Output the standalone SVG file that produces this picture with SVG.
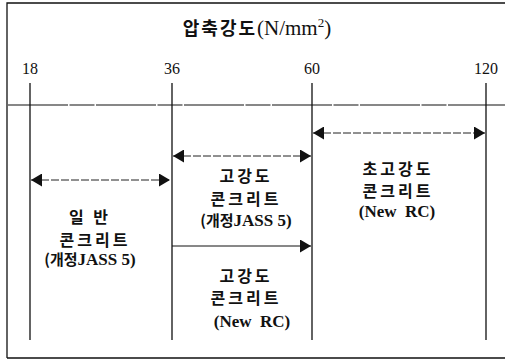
<svg xmlns="http://www.w3.org/2000/svg" width="505" height="360" viewBox="0 0 505 360">
<defs>
<style>
.ln{stroke:#111;stroke-width:1.3;fill:none}
.dash{stroke:#222;stroke-width:1;stroke-dasharray:8 2;fill:none}
.ah{fill:#111}
.ko{font-family:"Noto Sans CJK KR","Liberation Serif",sans-serif;font-size:16px;font-weight:bold;fill:#111;text-anchor:middle;letter-spacing:3px}
.sub{font-family:"Liberation Serif","Noto Sans CJK KR",serif;font-size:17px;font-weight:bold;fill:#111;text-anchor:middle}
.num{font-family:"Liberation Serif",serif;font-size:16px;fill:#111;text-anchor:middle}
.title{font-family:"Liberation Serif","Noto Sans CJK KR",serif;font-size:21px;fill:#111;text-anchor:middle}
</style>
<marker id="arr" viewBox="0 0 11 13" refX="11" refY="6.5" markerWidth="11" markerHeight="13" markerUnits="userSpaceOnUse" orient="auto-start-reverse">
<path d="M0,0 L11,6.5 L0,13 Z" class="ah"/>
</marker>
</defs>
<rect width="505" height="360" fill="#fff"/>
<g id="frame">
<path class="ln" d="M7,358 V3 H505 M7,358 H505"/>
</g>
<g id="axis">
<text class="title" x="257" y="35"><tspan font-family="Noto Sans CJK KR" font-weight="bold" font-size="18" letter-spacing="2">압축강도</tspan><tspan>(N/mm</tspan><tspan font-size="13" dy="-8">2</tspan><tspan dy="8">)</tspan></text>
<text class="num" x="30" y="74">18</text>
<text class="num" x="172" y="74">36</text>
<text class="num" x="312" y="74">60</text>
<text class="num" x="486" y="74">120</text>
<path class="ln" d="M8,105 H505" style="stroke-width:1.1;stroke-dasharray:60 1.5 25 1.5"/>
<path class="ln" d="M30,83 V340 M172,83 V340 M312,83 V340 M486,83 V340"/>
</g>
<g id="connectors">
<path class="dash" d="M31,180 H170" marker-start="url(#arr)" marker-end="url(#arr)"/>
<path class="dash" d="M173,156 H311" marker-start="url(#arr)" marker-end="url(#arr)"/>
<path class="dash" d="M313,133 H485" marker-start="url(#arr)" marker-end="url(#arr)"/>
<path class="ln" d="M172,246 H311" marker-end="url(#arr)" style="stroke-width:1"/>
</g>
<g id="normal">
<text class="ko" x="90" y="223">일 반</text>
<text class="ko" x="95" y="246">콘크리트</text>
<text class="sub" x="90" y="265"><tspan font-family="Noto Sans CJK KR" font-size="15">(개정</tspan>JASS 5)</text>
</g>
<g id="high-jass">
<text class="ko" x="246" y="182">고강도</text>
<text class="ko" x="246" y="205">콘크리트</text>
<text class="sub" x="246" y="226"><tspan font-family="Noto Sans CJK KR" font-size="15">(개정</tspan>JASS 5)</text>
</g>
<g id="high-newrc">
<text class="ko" x="246" y="282">고강도</text>
<text class="ko" x="246" y="304">콘크리트</text>
<text class="sub" x="252" y="327" xml:space="preserve">(New  RC)</text>
</g>
<g id="ultra-high">
<text class="ko" x="398" y="175">초고강도</text>
<text class="ko" x="398" y="197">콘크리트</text>
<text class="sub" x="397" y="217" xml:space="preserve">(New  RC)</text>
</g>
</svg>
